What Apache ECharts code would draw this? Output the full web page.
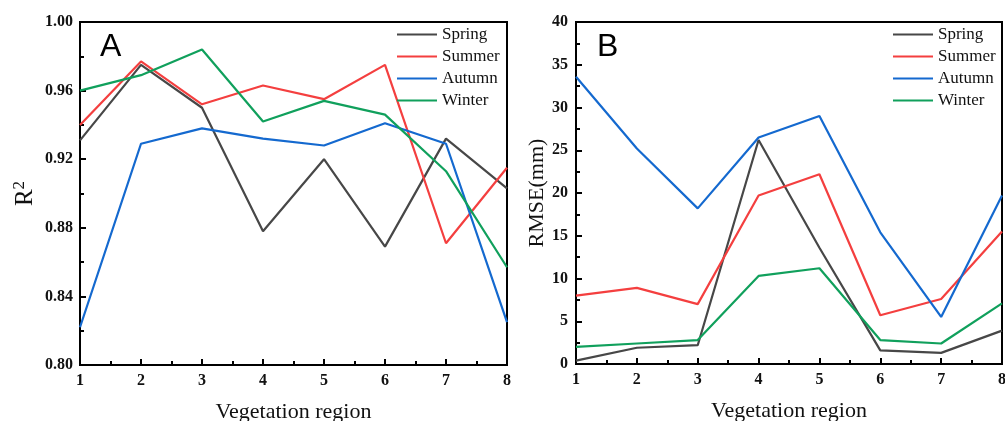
<!DOCTYPE html>
<html>
<head>
<meta charset="utf-8">
<script src="https://cdn.jsdelivr.net/npm/echarts@6/dist/echarts.min.js"></script>
<style>
html,body{margin:0;padding:0;background:#fff;}
#chart{width:1005px;height:421px;}
</style>
</head>
<body>
<div id="chart"></div>
<script>
// ---- data ----
const regions = [1, 2, 3, 4, 5, 6, 7, 8];
const seasons = ['Spring', 'Summer', 'Autumn', 'Winter'];
const r2Spring = [0.931, 0.975, 0.950, 0.878, 0.920, 0.869, 0.932, 0.903];
const r2Summer = [0.940, 0.977, 0.952, 0.963, 0.955, 0.975, 0.871, 0.915];
const r2Autumn = [0.822, 0.929, 0.938, 0.932, 0.928, 0.941, 0.929, 0.825];
const r2Winter = [0.960, 0.969, 0.984, 0.942, 0.954, 0.946, 0.913, 0.857];
const rmseSpring = [0.4, 1.9, 2.2, 26.2, 13.6, 1.6, 1.3, 3.9];
const rmseSummer = [8.0, 8.9, 7.0, 19.7, 22.2, 5.7, 7.6, 15.5];
const rmseAutumn = [33.6, 25.2, 18.2, 26.5, 29.0, 15.4, 5.5, 19.7];
const rmseWinter = [2.0, 2.4, 2.8, 10.3, 11.2, 2.8, 2.4, 7.1];
const r2Ticks = ['0.80', '0.84', '0.88', '0.92', '0.96', '1.00'];
const rmseTicks = ['0', '5', '10', '15', '20', '25', '30', '35', '40'];

const colors = ['#474747', '#f43f3f', '#1469cf', '#10a05c'];
const serif = '"Liberation Serif", "Times New Roman", serif';

const chart = echarts.init(document.getElementById('chart'), null, {renderer: 'canvas'});

function pairs(vals) { return regions.map((r, i) => [r, vals[i]]); }

function xAx(gi) {
  return {
    type: 'value', gridIndex: gi, min: 1, max: 8, interval: 1,
    name: 'Vegetation region', nameLocation: 'middle', nameGap: 36,
    nameTextStyle: {fontFamily: serif, fontSize: 22, color: '#111'},
    axisLine: {show: true, onZero: false, lineStyle: {color: '#000', width: 2}},
    axisTick: {show: true, inside: true, length: 6, lineStyle: {color: '#000', width: 2}},
    minorTick: {show: true, splitNumber: 2, length: 4, lineStyle: {color: '#000', width: 2}},
    splitLine: {show: false}, minorSplitLine: {show: false},
    axisLabel: {fontFamily: serif, fontWeight: 'bold', fontSize: 16, color: '#111', margin: 8}
  };
}

const seriesList = [];
const r2Sets = [r2Spring, r2Summer, r2Autumn, r2Winter];
const rmseSets = [rmseSpring, rmseSummer, rmseAutumn, rmseWinter];
seasons.forEach((s, i) => {
  seriesList.push({
    name: s, type: 'line', xAxisIndex: 0, yAxisIndex: 0, data: pairs(r2Sets[i]),
    symbol: 'none', lineStyle: {width: 2.2, color: colors[i]}, itemStyle: {color: colors[i]},
    animation: false
  });
});
seasons.forEach((s, i) => {
  seriesList.push({
    name: s, type: 'line', xAxisIndex: 1, yAxisIndex: 1, data: pairs(rmseSets[i]),
    symbol: 'none', lineStyle: {width: 2.2, color: colors[i]}, itemStyle: {color: colors[i]},
    animation: false
  });
});

function legend(left) {
  return {
    data: seasons, orient: 'vertical', left: left, top: 26, padding: 0,
    itemWidth: 40, itemHeight: 14, itemGap: 5,
    itemStyle: {opacity: 0},
    textStyle: {fontFamily: serif, fontSize: 17, color: '#111'},
    selectedMode: false
  };
}

const option = {
  backgroundColor: '#fff',
  animation: false,
  title: [
    {text: 'A', left: 95, top: 26, textStyle: {fontFamily: '"Liberation Sans", Arial, sans-serif', fontSize: 32, fontWeight: 'normal', color: '#000'}},
    {text: 'B', left: 592, top: 26, textStyle: {fontFamily: '"Liberation Sans", Arial, sans-serif', fontSize: 32, fontWeight: 'normal', color: '#000'}}
  ],
  legend: [legend(396), legend(892)],
  grid: [
    {left: 80, top: 22, width: 427, height: 343, show: true, borderColor: '#000', borderWidth: 2, backgroundColor: 'transparent', outerBoundsMode: 'none', containLabel: false},
    {left: 576, top: 22, width: 426, height: 342, show: true, borderColor: '#000', borderWidth: 2, backgroundColor: 'transparent', outerBoundsMode: 'none', containLabel: false}
  ],
  xAxis: [xAx(0), xAx(1)],
  yAxis: [
    {
      type: 'value', gridIndex: 0, min: 0.80, max: 1.00, interval: 0.04,
      name: '{r|R}{s|2}', nameLocation: 'middle', nameGap: 40,
      nameTextStyle: {
        rich: {
          r: {fontFamily: serif, fontSize: 25, color: '#111'},
          s: {fontFamily: serif, fontSize: 17, color: '#111', padding: [0, 0, 12, 0]}
        }
      },
      axisLine: {show: true, lineStyle: {color: '#000', width: 2}},
      axisTick: {show: true, inside: true, length: 6, lineStyle: {color: '#000', width: 2}},
      minorTick: {show: true, splitNumber: 2, length: 4, lineStyle: {color: '#000', width: 2}},
      splitLine: {show: false}, minorSplitLine: {show: false},
      axisLabel: {
        fontFamily: serif, fontWeight: 'bold', fontSize: 16, color: '#111', margin: 7,
        formatter: function (v) { const i = Math.round((v - 0.80) / 0.04); return r2Ticks[i] !== undefined ? r2Ticks[i] : ''; }
      }
    },
    {
      type: 'value', gridIndex: 1, min: 0, max: 40, interval: 5,
      name: 'RMSE(mm)', nameLocation: 'middle', nameGap: 26,
      nameTextStyle: {fontFamily: serif, fontSize: 22, color: '#111'},
      axisLine: {show: true, lineStyle: {color: '#000', width: 2}},
      axisTick: {show: true, inside: true, length: 6, lineStyle: {color: '#000', width: 2}},
      minorTick: {show: true, splitNumber: 2, length: 4, lineStyle: {color: '#000', width: 2}},
      splitLine: {show: false}, minorSplitLine: {show: false},
      axisLabel: {
        fontFamily: serif, fontWeight: 'bold', fontSize: 16, color: '#111', margin: 8,
        formatter: function (v) { const i = Math.round(v / 5); return rmseTicks[i] !== undefined ? rmseTicks[i] : ''; }
      }
    }
  ],
  series: seriesList
};
chart.setOption(option);
</script>
</body>
</html>
